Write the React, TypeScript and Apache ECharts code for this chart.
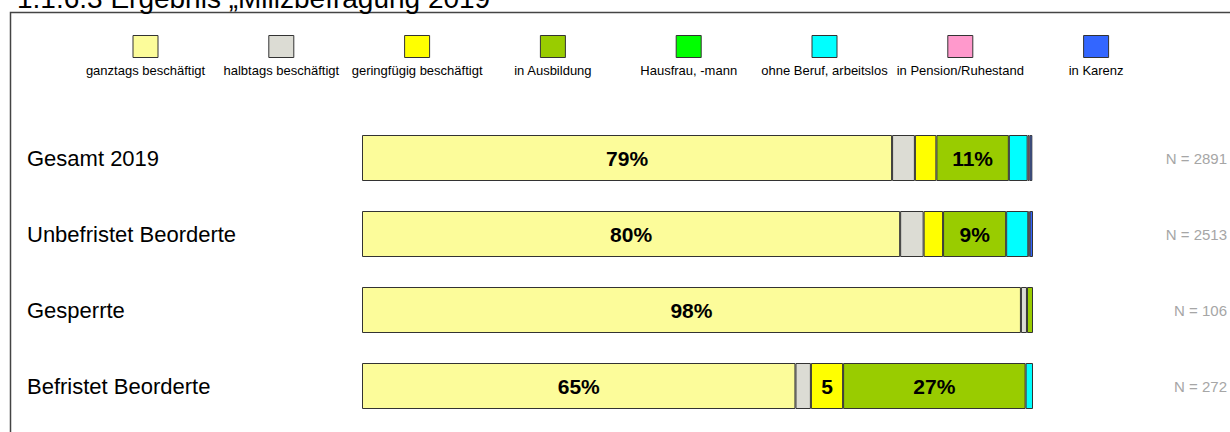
import React, { useEffect, useRef } from "react";
import * as echarts from "echarts";

const title = "1.1.6.3 Ergebnis „Milizbefragung 2019“";
const categories = ["Gesamt 2019", "Unbefristet Beorderte", "Gesperrte", "Befristet Beorderte"];
const nLabels = ["N = 2891", "N = 2513", "N = 106", "N = 272"];
const seriesNames = [
  "ganztags beschäftigt",
  "halbtags beschäftigt",
  "geringfügig beschäftigt",
  "in Ausbildung",
  "Hausfrau, -mann",
  "ohne Beruf, arbeitslos",
  "in Pension/Ruhestand",
  "in Karenz",
];
const ganztags = [79.0, 80.2, 98.2, 64.6];
const halbtags = [3.4, 3.5, 0.9, 2.3];
const geringfuegig = [3.2, 2.9, 0, 4.8];
const ausbildung = [10.8, 9.4, 0.9, 27.2];
const hausfrau = [0, 0, 0, 0];
const ohneBeruf = [2.8, 3.3, 0, 1.1];
const pension = [0.3, 0.2, 0, 0];
const karenz = [0.4, 0.5, 0, 0];
const seriesValues = [ganztags, halbtags, geringfuegig, ausbildung, hausfrau, ohneBeruf, pension, karenz];
const colors = ["#FCFC9A", "#DCDCD4", "#FFFF00", "#99CC00", "#00FF00", "#00FFFF", "#FF99CC", "#3366FF"];

const FONT = "Arial, 'Liberation Sans', sans-serif";

export default function App() {
  const ref = useRef<HTMLDivElement>(null);
  useEffect(() => {
    document.body.style.margin = "0";
    const chart = echarts.init(ref.current!, null, { renderer: "svg" });
    const legendGraphics: any[] = [];
    seriesNames.forEach((name, i) => {
      const cx = 145.5 + i * 135.8;
      legendGraphics.push({
        type: "rect",
        shape: { x: cx - 12.5, y: 35.5, width: 25, height: 22 },
        style: { fill: colors[i], stroke: "#333", lineWidth: 1 },
      });
      legendGraphics.push({
        type: "text",
        x: cx,
        y: 70,
        style: {
          text: name,
          align: "center",
          verticalAlign: "middle",
          fontSize: 13,
          fontFamily: FONT,
          fill: "#000",
        },
      });
    });
    const option: any = {
      animation: false,
      backgroundColor: "#fff",
      grid: { left: 362, width: 672, top: 120, bottom: 8, containLabel: false },
      xAxis: { type: "value", min: 0, max: 100, show: false },
      yAxis: [
        {
          type: "category",
          data: categories,
          inverse: true,
          axisLine: { show: false },
          axisTick: { show: false },
          axisLabel: {
            align: "left",
            margin: 335,
            fontSize: 22,
            fontFamily: FONT,
            color: "#000",
          },
        },
        {
          type: "category",
          data: nLabels,
          inverse: true,
          position: "right",
          axisLine: { show: false },
          axisTick: { show: false },
          axisLabel: {
            align: "right",
            margin: 194,
            fontSize: 15,
            fontFamily: FONT,
            color: "#A6A6A6",
            padding: [6, 0, 0, 0],
          },
        },
      ],
      series: seriesNames.map((name, i) => ({
        name,
        type: "bar",
        stack: "total",
        barWidth: 46,
        yAxisIndex: 0,
        data: seriesValues[i].map((v) => (v > 0 ? v : "-")),
        itemStyle: { color: colors[i], borderColor: "#333", borderWidth: 1 },
        label: {
          show: true,
          position: "inside",
          fontSize: 21,
          fontWeight: "bold",
          fontFamily: FONT,
          color: "#000",
          formatter: (p: any) => {
            const v = p.value as number;
            if (v >= 9) return Math.round(v) + "%";
            if (v >= 4.5) return String(Math.round(v));
            return "";
          },
        },
      })),
      graphic: [
        {
          type: "rect",
          shape: { x: 10.5, y: 12.5, width: 1300, height: 500 },
          style: { fill: "none", stroke: "#444", lineWidth: 1.5 },
          silent: true,
        },
        {
          type: "text",
          x: 17,
          y: 12,
          style: { text: title, fontSize: 28, fontFamily: FONT, fill: "#000", verticalAlign: "bottom" },
        },
        ...legendGraphics,
      ],
    };
    chart.setOption(option);
    return () => chart.dispose();
  }, []);
  return <div ref={ref} style={{ width: 1230, height: 432 }} />;
}
